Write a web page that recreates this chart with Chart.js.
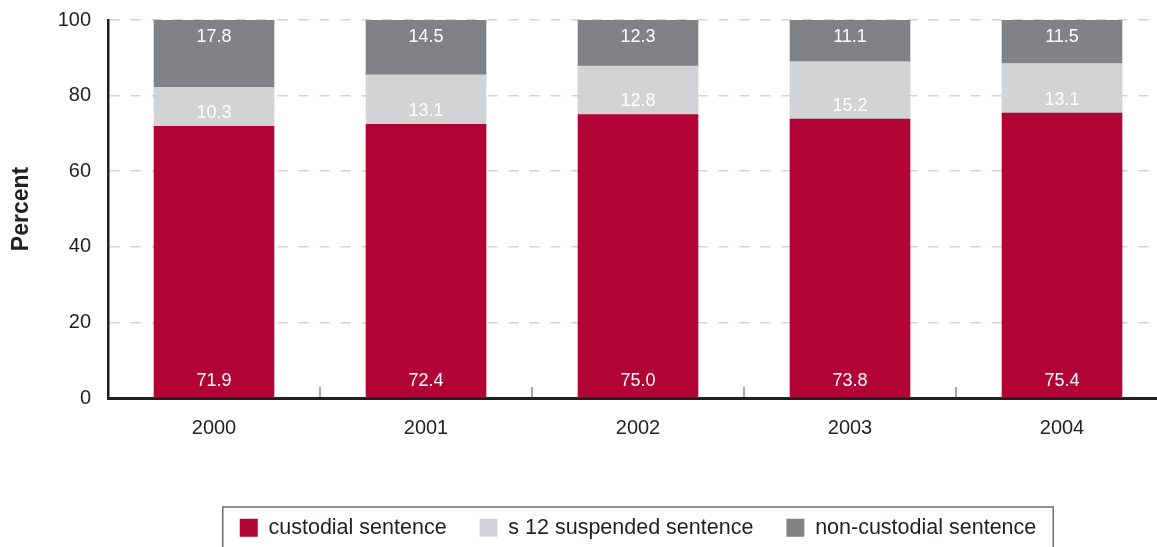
<!DOCTYPE html>
<html>
<head>
<meta charset="utf-8">
<script src="https://cdn.jsdelivr.net/npm/chart.js@4.4.1/dist/chart.umd.min.js"></script>
<style>
  html, body { margin: 0; padding: 0; background: #fff; overflow: hidden; }
  #wrap { width: 1180px; height: 547px; }
</style>
</head>
<body>
<div id="wrap"><canvas id="sentenceChart" width="1180" height="547"></canvas></div>
<script>
// Sentence outcomes by year (percent of cases)
const years = ['2000', '2001', '2002', '2003', '2004'];
const custodial = [71.9, 72.4, 75.0, 73.8, 75.4];
const suspended = [10.3, 13.1, 12.8, 15.2, 13.1];
const nonCustodial = [17.8, 14.5, 12.3, 11.1, 11.5];
const yTicks = [0, 20, 40, 60, 80, 100];

const FONT = "'Liberation Sans', Arial, Helvetica, sans-serif";

// Value labels inside each segment: custodial near the base,
// suspended just above its base, non-custodial just under the top
const segmentLabels = {
  id: 'segmentLabels',
  afterDatasetsDraw(chart) {
    const ctx = chart.ctx;
    ctx.save();
    ctx.fillStyle = '#ffffff';
    ctx.font = '18px ' + FONT;
    ctx.textAlign = 'center';
    ctx.textBaseline = 'middle';
    chart.data.datasets.forEach((ds, di) => {
      const meta = chart.getDatasetMeta(di);
      meta.data.forEach((bar, i) => {
        let y;
        if (di === 0) y = bar.base - 16;
        else if (di === 1) y = bar.base - 13;
        else y = chart.chartArea.top + 17;
        ctx.fillText(ds.data[i].toFixed(1), bar.x, y);
      });
    });
    ctx.restore();
  }
};

// Short upward ticks on the x axis between the year groups,
// plus a frame round the legend
const axisExtras = {
  id: 'axisExtras',
  afterDraw(chart) {
    const ctx = chart.ctx;
    const x = chart.scales.x;
    const bottom = chart.chartArea.bottom;
    ctx.save();
    ctx.strokeStyle = '#a7a9ac';
    ctx.lineWidth = 2;
    for (let i = 0; i < years.length - 1; i++) {
      const bx = (x.getPixelForValue(i) + x.getPixelForValue(i + 1)) / 2;
      ctx.beginPath();
      ctx.moveTo(bx, bottom - 11);
      ctx.lineTo(bx, bottom - 1);
      ctx.stroke();
    }
    const boxes = chart.legend.legendHitBoxes;
    if (boxes && boxes.length) {
      const left = boxes[0].left - 17;
      const last = boxes[boxes.length - 1];
      const right = last.left + last.width + 17;
      const top = boxes[0].top - 10;
      ctx.strokeStyle = '#6d6e71';
      ctx.lineWidth = 1.5;
      ctx.strokeRect(left, top, right - left, 80);
    }
    ctx.restore();
  }
};

const ctx = document.getElementById('sentenceChart').getContext('2d');
const sentenceChart = new Chart(ctx, {
  type: 'bar',
  data: {
    labels: years,
    datasets: [
      { label: 'custodial sentence', data: custodial, backgroundColor: '#b10335' },
      { label: 's 12 suspended sentence', data: suspended, backgroundColor: '#d1d3d4' },
      { label: 'non-custodial sentence', data: nonCustodial, backgroundColor: '#808285' }
    ]
  },
  options: {
    responsive: false,
    animation: false,
    layout: { padding: { top: 20, right: 12, left: 0, bottom: 0 } },
    datasets: { bar: { barThickness: 120, borderWidth: 0 } },
    scales: {
      x: {
        stacked: true,
        grid: { display: false },
        border: { display: true, color: '#231f20', width: 3 },
        ticks: { color: '#231f20', font: { family: FONT, size: 20 }, padding: 10 },
        afterFit(scale) {
          scale.height = 86;
          scale.paddingLeft = 0;
          scale.paddingRight = 0;
        }
      },
      y: {
        stacked: true,
        min: 0,
        max: 100,
        afterBuildTicks(scale) { scale.ticks = yTicks.map(v => ({ value: v })); },
        grid: { color: '#d1d3d4', lineWidth: 1.5, drawTicks: false },
        border: { display: true, color: '#231f20', width: 2.5, dash: [10, 11] },
        ticks: { color: '#231f20', font: { family: FONT, size: 20 }, padding: 17 },
        title: {
          display: true,
          text: 'Percent',
          color: '#231f20',
          font: { family: FONT, size: 23, weight: 'bold' },
          padding: { top: 8, bottom: 0 }
        },
        afterFit(scale) {
          scale.width = 108;
          scale.paddingTop = 0;
          scale.paddingBottom = 0;
        }
      }
    },
    plugins: {
      legend: {
        position: 'bottom',
        fullSize: false,
        maxHeight: 63,
        labels: {
          color: '#231f20',
          font: { family: FONT, size: 21.5 },
          boxWidth: 18,
          boxHeight: 18,
          padding: 33
        }
      },
      tooltip: { enabled: false }
    }
  },
  plugins: [segmentLabels, axisExtras]
});
</script>
</body>
</html>
